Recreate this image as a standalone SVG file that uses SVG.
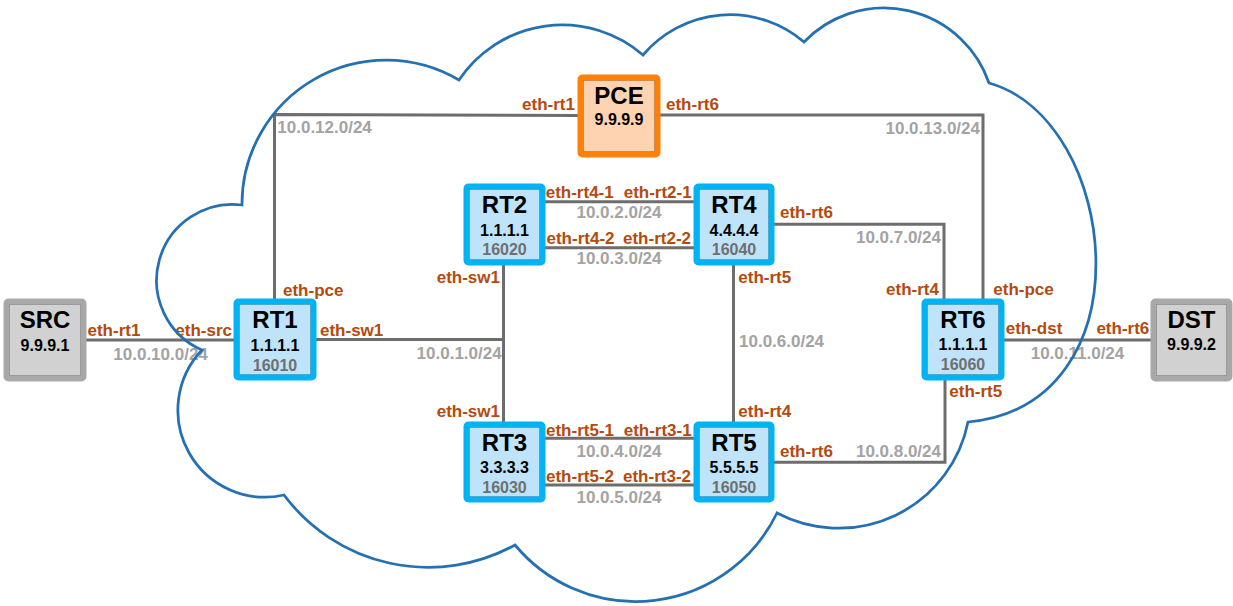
<svg xmlns="http://www.w3.org/2000/svg" width="1233" height="606" viewBox="0 0 1233 606">
  <style>
    .link { fill: none; stroke: #6d6d6d; stroke-width: 3; }
    .ifc { font-family: "Liberation Sans", Arial, sans-serif; font-weight: bold; font-size: 17px; fill: #b54a0e; }
    .net { font-family: "Liberation Sans", Arial, sans-serif; font-weight: bold; font-size: 17px; fill: #a3a3a3; }
    .cloud { fill: none; stroke: #2470b3; stroke-width: 2.75; stroke-linejoin: miter; }
    .box { stroke-width: 6; }
    .rt .box { fill: #bfe4f9; stroke: #00b3f4; }
    .host .box { fill: #d1d1d1; stroke: #a8a8a8; }
    .pce .box { fill: #fdd3b1; stroke: #fd8009; }
    .edge { fill: none; stroke: #000; stroke-opacity: 0.22; stroke-width: 0.8; }
    .title { font-family: "Liberation Sans", Arial, sans-serif; font-weight: bold; font-size: 24px; fill: #000; text-anchor: middle; }
    .addr { font-family: "Liberation Sans", Arial, sans-serif; font-weight: bold; font-size: 16px; fill: #000; text-anchor: middle; }
    .sid { font-family: "Liberation Sans", Arial, sans-serif; font-weight: bold; font-size: 16px; fill: #6f6f6f; text-anchor: middle; }
    .end { text-anchor: end; }
    .mid { text-anchor: middle; }
  </style>

  <rect width="1233" height="606" fill="#ffffff"/>

  <!-- links with interface and subnet labels -->
  <g id="connectors">
    <line class="link" x1="86" y1="340" x2="234" y2="340"/>
    <polyline class="link" points="274.5,299 274.5,114.5 578,115.5"/>
    <polyline class="link" points="660,115 983,115 983,299"/>
    <line class="link" x1="316" y1="339.5" x2="505" y2="339.5"/>
    <line class="link" x1="503.5" y1="265" x2="503.5" y2="422"/>
    <line class="link" x1="545" y1="201.7" x2="694" y2="201.7"/>
    <line class="link" x1="545" y1="247.7" x2="694" y2="247.7"/>
    <line class="link" x1="545" y1="438.3" x2="694" y2="438.3"/>
    <line class="link" x1="545" y1="485" x2="694" y2="485"/>
    <line class="link" x1="733.5" y1="265" x2="733.5" y2="422"/>
    <polyline class="link" points="774,224.3 944,224.3 944,299"/>
    <polyline class="link" points="774,462.3 945,462.3 945,380"/>
    <line class="link" x1="1004" y1="340" x2="1151" y2="340"/>

    <text class="ifc" x="87.5" y="336">eth-rt1</text>
    <text class="ifc end" x="232" y="336">eth-src</text>
    <text class="net" x="113.3" y="360">10.0.10.0/24</text>

    <text class="ifc" x="283" y="296">eth-pce</text>
    <text class="ifc" x="320" y="336">eth-sw1</text>
    <text class="net" x="277.3" y="133.3">10.0.12.0/24</text>
    <text class="ifc end" x="575" y="110">eth-rt1</text>
    <text class="ifc" x="666" y="110">eth-rt6</text>
    <text class="net end" x="980" y="134">10.0.13.0/24</text>

    <text class="ifc end" x="500" y="282.7">eth-sw1</text>
    <text class="net end" x="501.7" y="359.3">10.0.1.0/24</text>
    <text class="ifc end" x="500" y="416.7">eth-sw1</text>

    <text class="ifc" x="545.7" y="198.3">eth-rt4-1</text>
    <text class="ifc end" x="691.7" y="198.3">eth-rt2-1</text>
    <text class="net mid" x="619" y="218.3">10.0.2.0/24</text>
    <text class="ifc" x="546.5" y="244">eth-rt4-2</text>
    <text class="ifc end" x="691" y="244">eth-rt2-2</text>
    <text class="net mid" x="619" y="264.3">10.0.3.0/24</text>

    <text class="ifc" x="546" y="436">eth-rt5-1</text>
    <text class="ifc end" x="691.7" y="436">eth-rt3-1</text>
    <text class="net mid" x="619" y="456.7">10.0.4.0/24</text>
    <text class="ifc" x="546" y="481.7">eth-rt5-2</text>
    <text class="ifc end" x="691" y="481.7">eth-rt3-2</text>
    <text class="net mid" x="619" y="503.3">10.0.5.0/24</text>

    <text class="ifc" x="738.3" y="282.7">eth-rt5</text>
    <text class="net" x="739" y="347.3">10.0.6.0/24</text>
    <text class="ifc" x="738.3" y="416.7">eth-rt4</text>

    <text class="ifc" x="780" y="218.3">eth-rt6</text>
    <text class="net end" x="941" y="243.3">10.0.7.0/24</text>
    <text class="ifc" x="780" y="457.3">eth-rt6</text>
    <text class="net end" x="941" y="457.3">10.0.8.0/24</text>

    <text class="ifc end" x="939" y="295">eth-rt4</text>
    <text class="ifc" x="993.3" y="295">eth-pce</text>
    <text class="ifc" x="1005.7" y="334.3">eth-dst</text>
    <text class="ifc end" x="1149.3" y="334.3">eth-rt6</text>
    <text class="net" x="1030.7" y="359.3">10.0.11.0/24</text>
    <text class="ifc" x="949.3" y="396.7">eth-rt5</text>
  </g>

  <!-- network cloud outline -->
  <path id="cloud" class="cloud" d="M 242,205
    A 144 144 0 0 1 459,80
    A 124 124 0 0 1 643,55
    A 114 114 0 0 1 804,42
    A 111 111 0 0 1 989,83
    C 1120,120 1150,405 968,422
    A 132 132 0 0 1 777,513
    A 157 157 0 0 1 515,545
    A 180 180 0 0 1 284,495
    A 87 87 0 0 1 202,350
    A 76 76 0 0 1 242,205 Z"/>

  <!-- nodes -->
  <g id="SRC" class="host">
    <rect class="box" x="6.5" y="301.5" width="77" height="77" rx="2"/>
    <rect class="edge" x="9.5" y="304.5" width="71" height="71"/>
    <text class="title" x="45" y="328">SRC</text>
    <text class="addr" x="45" y="350.7">9.9.9.1</text>
  </g>

  <g id="RT1" class="rt">
    <rect class="box" x="236.5" y="301.5" width="77" height="76" rx="2"/>
    <rect class="edge" x="239.5" y="304.5" width="71" height="70"/>
    <text class="title" x="275" y="328">RT1</text>
    <text class="addr" x="275" y="350.7">1.1.1.1</text>
    <text class="sid" x="275" y="370.5">16010</text>
  </g>

  <g id="PCE" class="pce">
    <rect class="box" x="580.5" y="77.5" width="77" height="77" rx="2"/>
    <rect class="edge" x="583.5" y="80.5" width="71" height="71"/>
    <text class="title" x="619" y="103.5">PCE</text>
    <text class="addr" x="619" y="125">9.9.9.9</text>
  </g>

  <g id="RT2" class="rt">
    <rect class="box" x="466.5" y="186.5" width="76" height="76" rx="2"/>
    <rect class="edge" x="469.5" y="189.5" width="70" height="70"/>
    <text class="title" x="504.5" y="213.3">RT2</text>
    <text class="addr" x="504.5" y="235.7">1.1.1.1</text>
    <text class="sid" x="504.5" y="255">16020</text>
  </g>

  <g id="RT4" class="rt">
    <rect class="box" x="696.5" y="186.5" width="75" height="76" rx="2"/>
    <rect class="edge" x="699.5" y="189.5" width="69" height="70"/>
    <text class="title" x="734" y="213.3">RT4</text>
    <text class="addr" x="734" y="235.7">4.4.4.4</text>
    <text class="sid" x="734" y="255">16040</text>
  </g>

  <g id="RT3" class="rt">
    <rect class="box" x="466.5" y="424.5" width="76" height="75" rx="2"/>
    <rect class="edge" x="469.5" y="427.5" width="70" height="69"/>
    <text class="title" x="504.5" y="450.5">RT3</text>
    <text class="addr" x="504.5" y="472.7">3.3.3.3</text>
    <text class="sid" x="504.5" y="492.7">16030</text>
  </g>

  <g id="RT5" class="rt">
    <rect class="box" x="696.5" y="424.5" width="75" height="75" rx="2"/>
    <rect class="edge" x="699.5" y="427.5" width="69" height="69"/>
    <text class="title" x="734" y="450.5">RT5</text>
    <text class="addr" x="734" y="472.7">5.5.5.5</text>
    <text class="sid" x="734" y="492.7">16050</text>
  </g>

  <g id="RT6" class="rt">
    <rect class="box" x="924.5" y="301.5" width="77" height="76" rx="2"/>
    <rect class="edge" x="927.5" y="304.5" width="71" height="70"/>
    <text class="title" x="963" y="327.5">RT6</text>
    <text class="addr" x="963" y="350">1.1.1.1</text>
    <text class="sid" x="963" y="369.5">16060</text>
  </g>

  <g id="DST" class="host">
    <rect class="box" x="1153.5" y="301.5" width="76" height="77" rx="2"/>
    <rect class="edge" x="1156.5" y="304.5" width="70" height="71"/>
    <text class="title" x="1191.5" y="327.5">DST</text>
    <text class="addr" x="1191.5" y="349.5">9.9.9.2</text>
  </g>
</svg>
